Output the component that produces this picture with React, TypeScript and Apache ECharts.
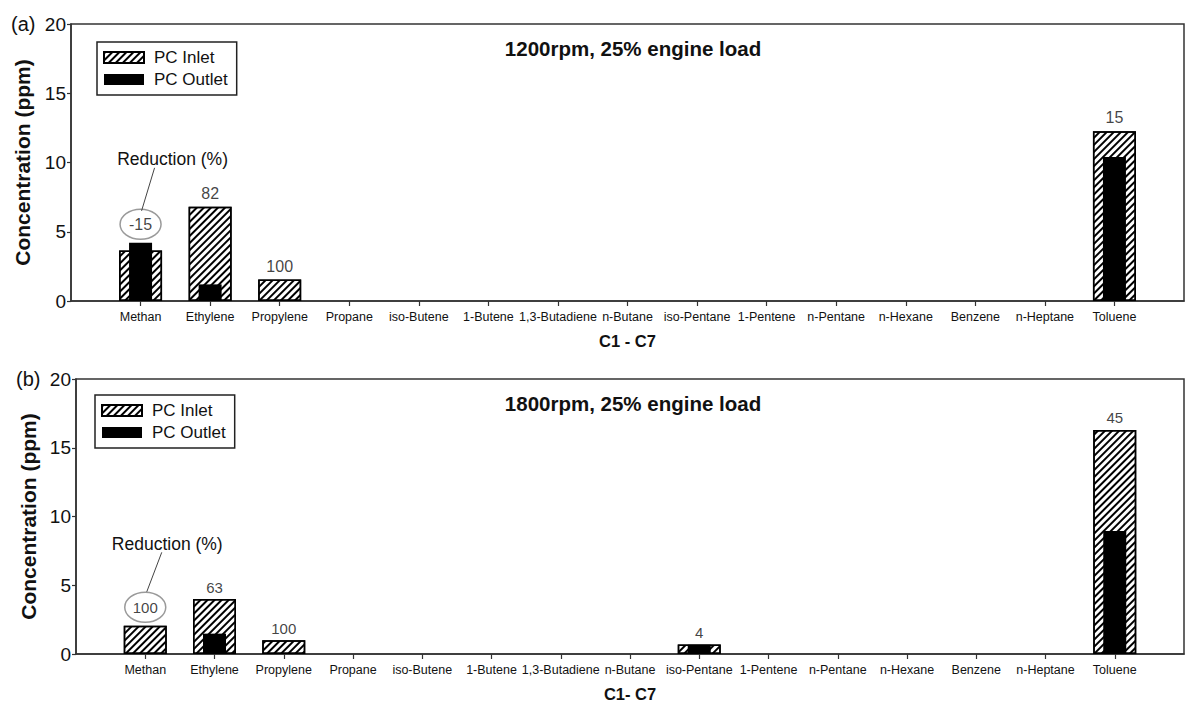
import React, { useEffect, useRef } from 'react';
import * as echarts from 'echarts';

// C1 - C7 hydrocarbon species on the x axis
const compounds = [
  'Methan', 'Ethylene', 'Propylene', 'Propane', 'iso-Butene', '1-Butene', '1,3-Butadiene',
  'n-Butane', 'iso-Pentane', '1-Pentene', 'n-Pentane', 'n-Hexane', 'Benzene', 'n-Heptane', 'Toluene',
];
const yTicks = [0, 5, 10, 15, 20];
const seriesNames = ['PC Inlet', 'PC Outlet'];

// Concentrations (ppm), 1200 rpm / 25% load
const inlet1200 = [3.65, 6.8, 1.55, 0, 0, 0, 0, 0, 0, 0, 0, 0, 0, 0, 12.25];
const outlet1200 = [4.2, 1.2, 0, 0, 0, 0, 0, 0, 0, 0, 0, 0, 0, 0, 10.4];

// Concentrations (ppm), 1800 rpm / 25% load
const inlet1800 = [2.05, 4.0, 1.0, 0, 0, 0, 0, 0, 0.7, 0, 0, 0, 0, 0, 16.3];
const outlet1800 = [0, 1.48, 0, 0, 0, 0, 0, 0, 0.67, 0, 0, 0, 0, 0, 8.95];

const panelTags = ['(a)', '(b)'];
const panelTitles = ['1200rpm, 25% engine load', '1800rpm, 25% engine load'];
const xAxisNames = ['C1 - C7', 'C1- C7'];
const annotationText = 'Reduction (%)';

const FONT = "'Liberation Sans', Arial, Helvetica, sans-serif";
const INK = '#111';

const panels = [
  {
    inlet: inlet1200, outlet: outlet1200,
    grid: { left: 71, top: 24, width: 1120, height: 277 },
    legend: { left: 97, top: 42 },
    tagLeft: 11, yNameGap: 38,
    labelSize: 16, labelDist: 5,
    note: { line: [1, -13.5, 14, -56.5], text: [32, -65.5] },
  },
  {
    inlet: inlet1800, outlet: outlet1800,
    grid: { left: 76, top: 379, width: 1120, height: 276 },
    legend: { left: 95, top: 395 },
    tagLeft: 16, yNameGap: 35,
    labelSize: 15, labelDist: 4,
    note: { line: [1.5, -15.5, 16.5, -55], text: [22, -63] },
  },
];

// Axis categories padded by one empty slot on each side
const axisCategories = ['', ...compounds, ''];

const reduction = (a: number, b: number) => Math.round(((a - b) / a) * 100);

export default function App() {
  const ref = useRef<HTMLDivElement>(null);

  useEffect(() => {
    if (!ref.current) return;
    const chart = echarts.init(ref.current, undefined, { renderer: 'svg' });

    const grids: any[] = [];
    const xAxes: any[] = [];
    const yAxes: any[] = [];
    const series: any[] = [];
    const legends: any[] = [];
    const titles: any[] = [];

    panels.forEach((p, k) => {
      grids.push({
        ...p.grid,
        show: true,
        borderColor: '#333',
        borderWidth: 1.5,
        backgroundColor: 'transparent',
      });

      const visibleX = {
        type: 'category',
        gridIndex: k,
        data: axisCategories,
        boundaryGap: false,
        name: xAxisNames[k],
        nameLocation: 'middle',
        nameGap: 31,
        nameTextStyle: { fontFamily: FONT, fontSize: 16.5, fontWeight: 'bold', color: INK },
        axisLine: { lineStyle: { color: '#333', width: 1.5 } },
        axisTick: {
          show: true,
          length: 5,
          inside: false,
          interval: (i: number) => i > 0 && i < axisCategories.length - 1,
          lineStyle: { color: '#333', width: 1.2 },
        },
        axisLabel: { interval: 0, margin: 9, fontFamily: FONT, fontSize: 12.5, color: INK },
        splitLine: { show: false },
      };
      const hiddenX = {
        type: 'category',
        gridIndex: k,
        data: axisCategories,
        boundaryGap: false,
        show: false,
      };
      xAxes.push(visibleX, hiddenX);

      yAxes.push({
        type: 'value',
        gridIndex: k,
        min: yTicks[0],
        max: yTicks[yTicks.length - 1],
        interval: yTicks[1] - yTicks[0],
        name: 'Concentration (ppm)',
        nameLocation: 'middle',
        nameGap: p.yNameGap,
        nameTextStyle: { fontFamily: FONT, fontSize: 21, fontWeight: 'bold', color: INK },
        axisLine: { show: true, lineStyle: { color: '#333', width: 1.5 } },
        axisTick: { show: true, length: 4, lineStyle: { color: '#333', width: 1.2 } },
        axisLabel: { margin: 5, fontFamily: FONT, fontSize: 19, color: INK },
        splitLine: { show: false },
      });

      const xi = k * 2;
      series.push({
        name: seriesNames[0],
        type: 'bar',
        xAxisIndex: xi,
        yAxisIndex: k,
        barWidth: 43,
        data: p.inlet.map((v, i) => [i + 1, v > 0 ? v : '-']),
        itemStyle: {
          color: '#fff',
          borderColor: '#000',
          borderWidth: 1.5,
          decal: {
            symbol: 'rect',
            symbolSize: 1,
            color: '#000',
            dashArrayX: [1, 0],
            dashArrayY: [1.7, 2.5],
            rotation: -Math.PI / 4,
          },
        },
      });
      series.push({
        name: seriesNames[1],
        type: 'bar',
        xAxisIndex: xi + 1,
        yAxisIndex: k,
        barWidth: 23,
        data: p.outlet.map((v, i) => [i + 1, v > 0 ? v : '-']),
        itemStyle: { color: '#000' },
      });
      // Reduction (%) labels above each measured species
      const labelData: any[] = [];
      p.inlet.forEach((v, i) => {
        if (v <= 0) return;
        const item: any = {
          value: [i + 1, Math.max(v, p.outlet[i])],
          r: reduction(v, p.outlet[i]),
        };
        if (i === 0) item.label = { distance: 10 };
        labelData.push(item);
      });
      series.push({
        name: 'reduction',
        type: 'scatter',
        xAxisIndex: xi,
        yAxisIndex: k,
        symbolSize: 1,
        itemStyle: { color: 'transparent' },
        silent: true,
        data: labelData,
        label: {
          show: true,
          position: 'top',
          distance: p.labelDist,
          fontFamily: FONT,
          fontSize: p.labelSize,
          color: INK,
          formatter: (d: any) => String(d.data.r),
        },
      });

      legends.push({
        data: seriesNames,
        orient: 'vertical',
        left: p.legend.left,
        top: p.legend.top,
        padding: [7, 9, 7, 6],
        borderColor: '#222',
        borderWidth: 1.5,
        itemWidth: 40,
        itemHeight: 11,
        itemGap: 5,
        icon: 'rect',
        selectedMode: false,
        textStyle: { fontFamily: FONT, fontSize: 17, color: INK, padding: [0, 0, 0, 5] },
      });

      titles.push({
        text: panelTitles[k],
        left: 628,
        top: p.grid.top + 9,
        textAlign: 'center',
        textStyle: { fontFamily: FONT, fontSize: 20.5, fontWeight: 'bold', color: INK },
      });
    });

    chart.setOption({
      animation: false,
      backgroundColor: '#fff',
      title: titles,
      grid: grids,
      xAxis: xAxes,
      yAxis: yAxes,
      legend: legends,
      series,
    });

    // Panel tags and the "Reduction (%)" callout around the first label
    const graphics: any[] = [];
    panels.forEach((p, k) => {
      graphics.push({
        type: 'text',
        x: p.tagLeft,
        y: p.grid.top,
        style: {
          text: panelTags[k],
          fontFamily: FONT,
          fontSize: 20,
          fill: INK,
          verticalAlign: 'middle',
        },
      });
      const top = Math.max(p.inlet[0], p.outlet[0]);
      const pt = chart.convertToPixel({ xAxisIndex: k * 2, yAxisIndex: k }, [1, top]) as number[];
      const cx = pt[0];
      const cy = pt[1] - 18.5;
      graphics.push({
        type: 'ellipse',
        shape: { cx, cy, rx: 20.5, ry: 15 },
        style: { fill: 'none', stroke: '#9a9a9a', lineWidth: 1.5 },
        silent: true,
      });
      const l = p.note.line;
      graphics.push({
        type: 'line',
        shape: { x1: cx + l[0], y1: cy + l[1], x2: cx + l[2], y2: cy + l[3] },
        style: { stroke: '#444', lineWidth: 1 },
        silent: true,
      });
      graphics.push({
        type: 'text',
        x: cx + p.note.text[0],
        y: cy + p.note.text[1],
        style: {
          text: annotationText,
          fontFamily: FONT,
          fontSize: 17.5,
          fill: INK,
          align: 'center',
          verticalAlign: 'middle',
        },
      });
    });
    chart.setOption({ graphic: graphics });

    return () => chart.dispose();
  }, []);

  return (
    <div
      ref={ref}
      style={{ position: 'absolute', left: 0, top: 0, width: 1187, height: 703, background: '#fff' }}
    />
  );
}
